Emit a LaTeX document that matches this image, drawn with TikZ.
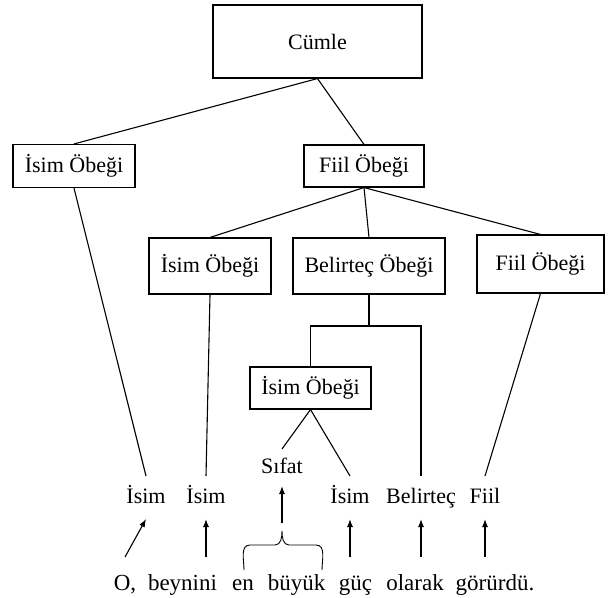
\documentclass[tikz,border=0pt]{standalone}
\usepackage{fontspec}
\setmainfont{Liberation Serif}
\usetikzlibrary{arrows.meta}
\begin{document}
\begin{tikzpicture}[x=1pt,y=-1pt,
  phrase/.style={draw,line width=1.1pt,inner sep=0pt,font=\fontsize{22}{26}\selectfont},
  tag/.style={inner sep=0pt,outer ysep=11pt,text height=16pt,text depth=5pt,font=\fontsize{22}{26}\selectfont},
  word/.style={inner sep=0pt,outer ysep=16pt,text height=17pt,text depth=6pt,font=\fontsize{23}{27}\selectfont},
  link/.style={line width=1.1pt},
  up/.style={line width=1.1pt,-{Latex[length=8pt,width=6pt]}}
]
\useasboundingbox (0,0) rectangle (612,597);

% phrase boxes
\node[phrase,minimum width=209pt,minimum height=73pt] (cumle) at (317.5,41.5) {Cümle};
\node[phrase,minimum width=122pt,minimum height=43pt] (npL) at (74,166) {İsim Öbeği};
\node[phrase,minimum width=120pt,minimum height=42pt] (vpT) at (364,166) {Fiil Öbeği};
\node[phrase,minimum width=122pt,minimum height=56pt] (np2) at (210,266) {İsim Öbeği};
\node[phrase,minimum width=152pt,minimum height=56pt] (advp) at (369,266) {Belirteç Öbeği};
\node[phrase,minimum width=127pt,minimum height=58pt] (vp2) at (540.5,264) {Fiil Öbeği};
\node[phrase,minimum width=121pt,minimum height=42pt] (np3) at (310.5,388) {İsim Öbeği};

% word categories
\node[tag,outer ysep=8pt] (sifat) at (282,467.5) {Sıfat};
\node[tag] (isimA) at (146,497.5) {İsim};
\node[tag] (isimB) at (206,497.5) {İsim};
\node[tag] (isimC) at (350,497.5) {İsim};
\node[tag] (belirtec) at (421,497.5) {Belirteç};
\node[tag] (fiil) at (485,497.5) {Fiil};

% sentence
\node[word] (o) at (125,584.5) {O,};
\node[word] (beynini) at (182.5,584.5) {beynini};
\node[word] (en) at (243,584.5) {en};
\node[word] (buyuk) at (296.5,584.5) {büyük};
\node[word] (guc) at (355.5,584.5) {güç};
\node[word] (olarak) at (415,584.5) {olarak};
\node[word] (goru) at (495,584.5) {görürdü.};

% tree branches
\draw[link] (cumle.south) -- (npL.north);
\draw[link] (cumle.south) -- (vpT.north);
\draw[link] (vpT.south) -- (np2.north);
\draw[link] (vpT.south) -- (advp.north);
\draw[link] (vpT.south) -- (vp2.north);
\draw[link] (npL.south) -- (isimA.north);
\draw[link] (np2.south) -- (isimB.north);
\draw[link] (vp2.south) -- (fiil.north);
\coordinate (fork) at (369,326);
\draw[link] (advp.south) -- (fork);
\draw[link] (np3.north) -- (np3.north |- fork) -- (belirtec.north |- fork) -- (belirtec.north);
\draw[link] (np3.south) -- (sifat.north);
\draw[link] (np3.south) -- (isimC.north);

% brace grouping "en büyük"
\coordinate (bracetip) at (282,531);
\draw[line width=0.9pt] (244,570) to[out=90,in=180] (250,545) -- (275,545)
  to[out=0,in=-90] (bracetip) to[out=-90,in=180] (289,545) -- (316,545)
  to[out=0,in=90] (322,570);

% word-to-category arrows
\draw[up,shorten <=8pt] (bracetip) -- (sifat.south);
\draw[up] (o.north) -- (isimA.south);
\draw[up] (beynini.north -| isimB.south) -- (isimB.south);
\draw[up] (guc.north -| isimC.south) -- (isimC.south);
\draw[up] (olarak.north -| belirtec.south) -- (belirtec.south);
\draw[up] (goru.north -| fiil.south) -- (fiil.south);
\end{tikzpicture}
\end{document}
